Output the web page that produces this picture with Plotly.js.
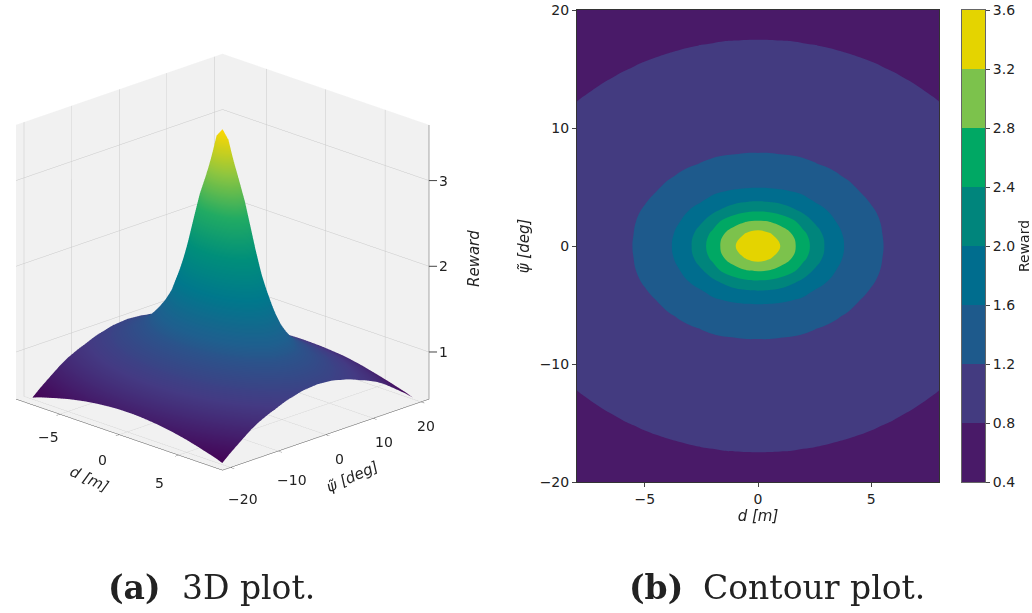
<!DOCTYPE html>
<html><head><meta charset="utf-8">
<script src="https://cdn.plot.ly/plotly-3.0.1.min.js"></script>
<style>html,body{margin:0;padding:0;background:#fff}</style></head>
<body><div id="chart" style="width:1032px;height:613px"></div>
<script>
const dPositive = [0,0.5,1,1.5,2,2.5,3,3.5,4,4.5,5,5.5,6,6.5,7,7.5,8];
const psiPositive = [0,1,2,3,4,5,6,7,8,9,10,11,12.5,14,15.5,17,18.5,20];
const rewardRows = [
[3.60,3.50,3.19,2.90,2.60,2.26,1.96,1.71,1.53,1.395,1.29,1.205,1.155,1.115,1.075,1.035,1.005],
[3.36,3.25,3.03,2.80,2.50,2.19,1.91,1.68,1.505,1.385,1.285,1.20,1.15,1.11,1.07,1.035,1.00],
[2.87,2.83,2.70,2.53,2.24,1.98,1.79,1.59,1.46,1.355,1.265,1.185,1.145,1.105,1.07,1.03,0.995],
[2.36,2.33,2.24,2.08,1.92,1.77,1.62,1.475,1.375,1.29,1.22,1.165,1.13,1.09,1.055,1.02,0.99],
[1.90,1.88,1.83,1.75,1.67,1.54,1.455,1.37,1.295,1.23,1.18,1.145,1.11,1.07,1.04,1.01,0.977],
[1.58,1.57,1.545,1.505,1.455,1.395,1.345,1.285,1.23,1.18,1.15,1.12,1.085,1.05,1.02,0.99,0.96],
[1.40,1.395,1.38,1.36,1.33,1.29,1.25,1.21,1.175,1.145,1.12,1.085,1.06,1.03,1.00,0.973,0.947],
[1.28,1.28,1.27,1.25,1.23,1.205,1.18,1.16,1.135,1.11,1.085,1.06,1.03,1.005,0.98,0.953,0.928],
[1.19,1.19,1.18,1.175,1.165,1.15,1.135,1.115,1.095,1.07,1.05,1.03,1.00,0.98,0.955,0.93,0.905],
[1.14,1.14,1.135,1.125,1.115,1.105,1.09,1.07,1.055,1.035,1.02,0.995,0.975,0.953,0.93,0.905,0.88],
[1.09,1.09,1.085,1.08,1.07,1.06,1.05,1.035,1.02,1.00,0.985,0.965,0.947,0.928,0.905,0.88,0.86],
[1.045,1.044,1.04,1.035,1.03,1.02,1.01,0.998,0.985,0.968,0.953,0.936,0.918,0.895,0.875,0.855,0.834],
[0.985,0.985,0.982,0.977,0.97,0.963,0.955,0.945,0.935,0.92,0.905,0.887,0.87,0.853,0.836,0.815,0.793],
[0.93,0.93,0.925,0.92,0.918,0.91,0.90,0.89,0.88,0.868,0.855,0.84,0.826,0.807,0.788,0.766,0.74],
[0.873,0.872,0.87,0.866,0.862,0.856,0.849,0.84,0.83,0.819,0.805,0.79,0.773,0.753,0.732,0.705,0.676],
[0.82,0.819,0.817,0.815,0.808,0.802,0.794,0.785,0.775,0.762,0.746,0.73,0.708,0.685,0.662,0.637,0.61],
[0.757,0.757,0.755,0.751,0.745,0.739,0.73,0.718,0.705,0.69,0.672,0.655,0.635,0.613,0.59,0.567,0.543],
[0.68,0.68,0.677,0.672,0.665,0.658,0.648,0.638,0.624,0.61,0.595,0.576,0.558,0.537,0.517,0.496,0.468]
];
const bandColors = ['#491a68','#433b80','#1e5a8c','#006d8e','#00857c','#00a864','#7cc24c','#e4d400'];
const bandMiddles = [0.6,1.0,1.4,1.8,2.2,2.6,3.0,3.4];
const levelTicks = [0.4,0.8,1.2,1.6,2.0,2.4,2.8,3.2,3.6];
const surfaceColors = [[0,'#440154'],[0.14,'#443a83'],[0.28,'#1f5f8e'],[0.42,'#00788c'],[0.56,'#008f7a'],[0.7,'#22ab63'],[0.85,'#90c63f'],[1,'#ffd800']];
const dTicks = [-5,0,5];
const dLabelShiftX = [-11,-17,-19];
const dLabelShiftY = [-23,-25,-28];
const psiTicks = [-20,-10,0,10,20];
const psiLabelShiftX = [12,14,14,11,5];
const psiLabelShiftY = [-32,-29,-24,-24,-24];
const zTicks = [1,2,3];

const mirror = a => a.slice(1).reverse().map(v => -v).concat(a);
const mirrorRow = r => r.slice(1).reverse().concat(r);
const d = mirror(dPositive), psi = mirror(psiPositive);
const half = rewardRows.map(mirrorRow);
const z = half.slice(1).reverse().concat(half);

const W = 1032, H = 613;
const font = 'DejaVu Sans, sans-serif';
const ink = '#222';
const discrete = [[0,bandColors[0]]];
bandColors.forEach((c,i)=>discrete.push([(i+1)/9,c]));
discrete.push([1,bandColors[7]]);
const barScale = [];
bandColors.forEach((c,i)=>{barScale.push([i/8,c]);barScale.push([(i+1)/8,c]);});

const xR=[-8.7,8.7], yR=[-21.7,21.7], zR=[0.45,3.65];
const axis3d = (vals, range, ticks) => ({
  range, tickvals: vals, ticks, ticklen:5, tickcolor:'#444', showticklabels:false,
  title:{text:''}, showbackground:true, backgroundcolor:'#f1f1f1', gridcolor:'#c9c9c9', gridwidth:1,
  showline:true, linecolor:'#555', linewidth:1, zeroline:false, showspikes:false
});
const tickFont = {family:font,size:14,color:ink};
const sceneNotes = [
  ...dTicks.map((v,i)=>({x:v,y:yR[0],z:zR[0],text:String(v).replace('-','\u2212'),showarrow:false,xshift:dLabelShiftX[i],yshift:dLabelShiftY[i],font:tickFont})),
  ...psiTicks.map((v,i)=>({x:xR[1],y:v,z:zR[0],text:String(v).replace('-','\u2212'),showarrow:false,xshift:psiLabelShiftX[i],yshift:psiLabelShiftY[i],font:tickFont})),
  ...zTicks.map(v=>({x:xR[1],y:yR[1],z:v,text:String(v),showarrow:true,arrowhead:0,arrowwidth:1,arrowcolor:'#444',ax:14,ay:0,font:tickFont}))
];
const data = [
 {type:'surface', x:d, y:psi, z, colorscale:surfaceColors, cmin:0.45, cmax:3.6, showscale:false,
  lighting:{ambient:1,diffuse:0,specular:0,roughness:1,fresnel:0}, scene:'scene'},
 {type:'scatter3d', mode:'lines', x:[xR[1],xR[1]], y:[yR[1],yR[1]], z:zR, line:{color:'#555',width:1}, scene:'scene', showlegend:false},
 {type:'contour', x:d, y:psi, z, xaxis:'x', yaxis:'y', colorscale:discrete, autocontour:false, showscale:false,
  contours:{start:0.4,end:3.6,size:0.4,coloring:'fill',showlines:false}, line:{width:0,smoothing:1.3}},
 {type:'heatmap', x:[0], y:bandMiddles, z:bandMiddles.map(v=>[v]), xaxis:'x2', yaxis:'y2', colorscale:barScale, zmin:0.4, zmax:3.6, showscale:false}
];
const note = (text,x,y,size,angle,fam) => ({text,x:x/W,y:1-y/H,xref:'paper',yref:'paper',showarrow:false,
  xanchor:'center',yanchor:'middle',textangle:angle||0,font:{family:fam||font,size,color:ink}});
const serif = 'DejaVu Serif, serif';
const layout = {
  width:W,height:H,margin:{l:0,r:0,t:0,b:0},paper_bgcolor:'#fff',plot_bgcolor:'#fff',showlegend:false,
  scene:{domain:{x:[0,445/W],y:[1-492/H,1-32/H]},aspectmode:'manual',aspectratio:{x:1.27,y:1.27,z:1.27},
    camera:{eye:{x:1.35,y:-1.35,z:0.7},center:{x:0,y:0,z:0},projection:{type:'orthographic'}},
    xaxis:axis3d(dTicks,xR,'outside'),yaxis:axis3d(psiTicks,yR,'outside'),
    zaxis:Object.assign(axis3d(zTicks,zR,''),{showline:false}),annotations:sceneNotes},
  xaxis:{domain:[577/W,939/W],range:[-8,8],tickvals:dTicks,ticks:'outside',ticklen:4,tickfont:tickFont,
    showline:true,mirror:true,linecolor:'#333',showgrid:false,zeroline:false,
    title:{text:'<i>d [m]</i>',standoff:4,font:{family:font,size:15,color:ink}}},
  yaxis:{domain:[1-482/H,1-10/H],range:[-20,20],tickvals:psiTicks,ticks:'outside',ticklen:4,tickfont:tickFont,
    showline:true,mirror:true,linecolor:'#333',showgrid:false,zeroline:false,
    title:{text:'<i>\u03C8\u0303 [deg]</i>',standoff:6,font:{family:font,size:15,color:ink}}},
  xaxis2:{domain:[962/W,985/W],anchor:'y2',range:[-0.5,0.5],showticklabels:false,ticks:'',showgrid:false,zeroline:false,showline:true,mirror:true,linecolor:'#666'},
  yaxis2:{domain:[1-482/H,1-10/H],anchor:'x2',side:'right',range:[0.4,3.6],tickvals:levelTicks,ticktext:levelTicks.map(v=>v.toFixed(1)),
    ticks:'outside',ticklen:4,tickfont:tickFont,showgrid:false,zeroline:false,showline:true,mirror:true,linecolor:'#666',
    title:{text:'Reward',standoff:10,font:{family:font,size:14,color:ink}}},
  annotations:[
    note('<i>d [m]</i>',89,479,15,25),
    note('<i>\u03C8\u0303 [deg]</i>',352,477,15,-24),
    note('<i>Reward</i>',474,259,15,-90),
    note('<b>(a)</b>',134,587,33,0,serif),
    note('3D plot.',248,587,33,0,serif),
    note('<b>(b)</b>',656,587,33,0,serif),
    note('Contour plot.',814,587,33,0,serif)
  ]
};
Plotly.newPlot('chart',data,layout,{displayModeBar:false});
</script></body></html>
